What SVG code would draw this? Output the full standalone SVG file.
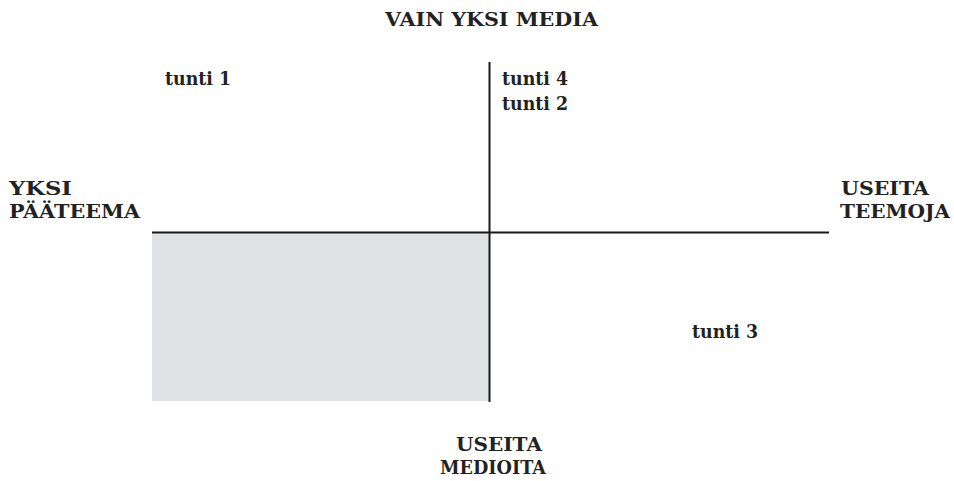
<svg xmlns="http://www.w3.org/2000/svg" width="954" height="481" viewBox="0 0 954 481">
  <style>
    .lbl { font-family: "DejaVu Serif", "Liberation Serif", serif; font-weight: bold; font-size: 18.5px; fill: #222; }
    .axis { stroke: #1a1a1a; stroke-width: 2; fill: none; }
  </style>
  <rect x="0" y="0" width="954" height="481" fill="#ffffff"/>
  <!-- shaded quadrant -->
  <rect id="shade" x="152" y="233" width="337.5" height="168" fill="#e1e2e4"/>
  <!-- axes -->
  <g id="axes">
    <line class="axis" x1="489.5" y1="62" x2="489.5" y2="402"/>
    <line class="axis" x1="152" y1="232.5" x2="829" y2="232.5"/>
  </g>
  <!-- axis end labels -->
  <g id="top"><text class="lbl" x="385" y="26" textLength="213" lengthAdjust="spacingAndGlyphs">VAIN YKSI MEDIA</text></g>
  <g id="bottom">
    <text class="lbl" x="456" y="451" textLength="86" lengthAdjust="spacingAndGlyphs">USEITA</text>
    <text class="lbl" x="440" y="474" textLength="106" lengthAdjust="spacingAndGlyphs">MEDIOITA</text>
  </g>
  <g id="left">
    <text class="lbl" x="9" y="195" textLength="63" lengthAdjust="spacingAndGlyphs">YKSI</text>
    <text class="lbl" x="9" y="218" textLength="131" lengthAdjust="spacingAndGlyphs">PÄÄTEEMA</text>
  </g>
  <g id="right">
    <text class="lbl" x="841" y="195" textLength="88" lengthAdjust="spacingAndGlyphs">USEITA</text>
    <text class="lbl" x="840" y="218" textLength="110" lengthAdjust="spacingAndGlyphs">TEEMOJA</text>
  </g>
  <!-- lessons placed in quadrants -->
  <g id="t1"><text class="lbl" x="165" y="85" textLength="66" lengthAdjust="spacingAndGlyphs">tunti 1</text></g>
  <g id="t4t2">
    <text class="lbl" x="502" y="85" textLength="66" lengthAdjust="spacingAndGlyphs">tunti 4</text>
    <text class="lbl" x="502" y="110" textLength="66" lengthAdjust="spacingAndGlyphs">tunti 2</text>
  </g>
  <g id="t3"><text class="lbl" x="692" y="338" textLength="66" lengthAdjust="spacingAndGlyphs">tunti 3</text></g>
</svg>
